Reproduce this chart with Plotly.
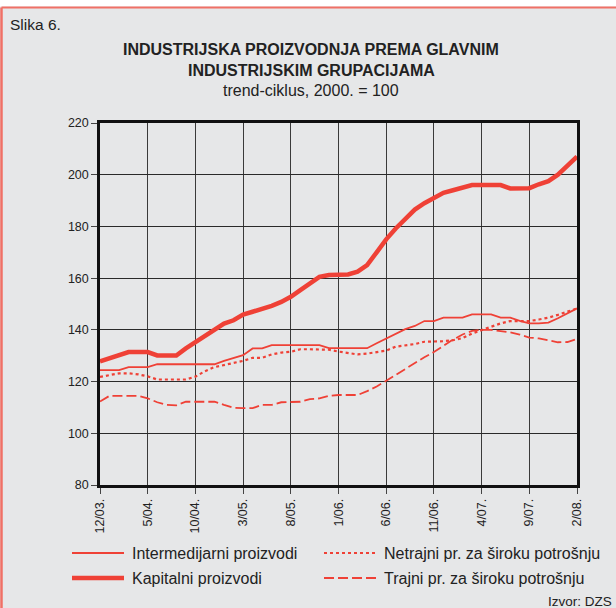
import plotly.graph_objects as go

# ---- data ----
tick_labels = ["12/03.", "5/04.", "10/04.", "3/05.", "8/05.", "1/06.", "6/06.", "11/06.", "4/07.", "9/07.", "2/08."]
months = list(range(51))  # monthly, 12/2003 .. 2/2008

intermedijarni = [124.4, 124.4, 124.4, 125.6, 125.6, 125.6, 126.7, 126.7, 126.7, 126.7,
                  126.7, 126.7, 126.7, 128.0, 129.0, 130.2, 132.8, 132.8, 134.1, 134.1,
                  134.1, 134.1, 134.1, 134.1, 132.9, 132.9, 132.9, 132.9, 132.9, 134.8,
                  136.7, 138.7, 140.3, 141.5, 143.4, 143.4, 144.7, 144.7, 144.7, 146.0,
                  146.0, 146.0, 144.7, 144.7, 143.5, 142.5, 142.5, 142.8, 144.5, 146.5,
                  148.3]
kapitalni = [127.8, 129.0, 130.2, 131.4, 131.4, 131.4, 130.1, 130.1, 130.1, 132.8,
             135.2, 137.5, 140.2, 142.4, 143.7, 145.9, 147.0, 148.0, 149.3, 150.8,
             152.8, 155.4, 158.0, 160.5, 161.2, 161.2, 161.4, 162.5, 165.0, 170.0,
             175.0, 179.2, 183.0, 186.5, 189.0, 191.0, 193.0, 194.0, 195.2, 196.0,
             196.0, 196.0, 196.0, 194.7, 194.7, 194.8, 196.3, 197.5, 200.0, 203.5,
             207.0]
netrajni = [121.8, 122.5, 123.2, 123.2, 122.8, 122.0, 120.8, 120.8, 120.8, 120.8,
            121.9, 124.0, 125.6, 126.4, 127.1, 128.0, 129.2, 129.2, 130.5, 131.2,
            131.5, 132.5, 132.5, 132.5, 132.3, 131.6, 131.0, 130.5, 130.8, 131.4,
            132.0, 133.5, 134.0, 134.5, 135.4, 135.4, 135.6, 136.0, 136.8, 138.6,
            139.8, 141.0, 142.5, 143.4, 143.4, 143.4, 144.0, 144.7, 145.8, 147.0,
            148.3]
trajni = [112.3, 114.5, 114.5, 114.5, 114.5, 113.5, 112.0, 111.0, 110.8, 112.2,
          112.2, 112.2, 112.2, 111.0, 109.9, 109.7, 109.7, 111.0, 111.0, 112.0,
          112.2, 112.2, 113.2, 113.5, 114.5, 114.8, 114.8, 114.8, 116.3, 118.1,
          120.3, 122.6, 125.0, 127.3, 129.4, 131.4, 133.8, 136.2, 138.2, 139.6,
          140.0, 140.0, 139.5, 139.0, 138.2, 137.0, 136.7, 136.0, 135.2, 135.3,
          136.5]

series_names = ["Intermedijarni proizvodi", "Kapitalni proizvodi",
                "Netrajni pr. za široku potrošnju", "Trajni pr. za široku potrošnju"]

RED = "#ef4136"
BG = "#e6e7e8"
FONT = "Liberation Sans, Arial, sans-serif"

styles = [dict(width=1.8, dash="solid"), dict(width=4.5, dash="solid"),
          dict(width=2.2, dash="dot"), dict(width=1.8, dash="10px,4px")]
values = [intermedijarni, kapitalni, netrajni, trajni]

fig = go.Figure()
for name, vals, st in zip(series_names, values, styles):
    fig.add_trace(go.Scatter(x=months, y=vals, mode="lines", name=name,
                             line=dict(color=RED, width=st["width"], dash=st["dash"]),
                             showlegend=False, hoverinfo="x+y"))

# plot area in pixels: left 100, right 577, top 123, bottom 485
L, R, T, B, W, H = 100, 39, 123, 123, 616, 608
PW = W - L - R
PH = H - T - B


def px(x):
    return (x - L) / PW


def py(y):
    return (H - B - y) / PH


def note(text, x, y, anchor, size=14):
    return dict(text=text, x=px(x), y=py(y), xref="paper", yref="paper",
                xanchor=anchor, yanchor="middle", showarrow=False,
                font=dict(size=size, color="#222", family=FONT))


annotations = [
    note("Slika 6.", 8, 25, "left", 15.5),
    note("<b>INDUSTRIJSKA PROIZVODNJA PREMA GLAVNIM</b>", 311, 50, "center", 16),
    note("<b>INDUSTRIJSKIM GRUPACIJAMA</b>", 311, 70, "center", 16),
    note("trend-ciklus, 2000. = 100", 311, 90, "center", 16),
    note("Izvor: DZS", 614, 601, "right", 13.5),
]

shapes = [
    # white strip above frame
    dict(type="rect", xref="paper", yref="paper", x0=px(-5), x1=px(625), y0=py(6.5), y1=py(-5),
         fillcolor="white", line=dict(width=0), layer="below"),
    # red frame
    dict(type="line", xref="paper", yref="paper", x0=px(1.5), x1=px(625), y0=py(7.5), y1=py(7.5),
         line=dict(color="#f07066", width=2)),
    dict(type="line", xref="paper", yref="paper", x0=px(1.5), x1=px(1.5), y0=py(7.5), y1=py(620),
         line=dict(color="#f07066", width=2.5)),
]

# manual legend
leg_pos = [(72, 553), (72, 578), (324, 553), (324, 578)]
for name, st, (lx, ly) in zip(series_names, styles, leg_pos):
    shapes.append(dict(type="line", xref="paper", yref="paper", x0=px(lx), x1=px(lx + 52),
                       y0=py(ly), y1=py(ly),
                       line=dict(color=RED, width=st["width"], dash=st["dash"])))
    annotations.append(note(name, lx + 58, ly, "left", 16))

fig.update_layout(
    width=W, height=H,
    margin=dict(l=L, r=R, t=T, b=B),
    paper_bgcolor=BG, plot_bgcolor=BG,
    font=dict(family=FONT, color="#222"),
    annotations=annotations, shapes=shapes,
    showlegend=False,
    xaxis=dict(range=[0, 50], tickvals=list(range(0, 51, 5)), ticktext=tick_labels,
               tickangle=-90, showgrid=True, gridcolor="#3a3a3a", gridwidth=1,
               showline=True, linecolor="#111", linewidth=2.5, mirror=True,
               ticks="outside", ticklen=6, tickcolor="#444", tickfont=dict(size=12.5, color="#222"),
               zeroline=False, fixedrange=True),
    yaxis=dict(range=[80, 220], dtick=20, showgrid=True, gridcolor="#2a2a2a", gridwidth=1,
               showline=True, linecolor="#111", linewidth=2.5, mirror=True,
               ticks="outside", ticklen=6, tickcolor="#444", tickfont=dict(size=12.5, color="#222"),
               zeroline=False, fixedrange=True),
)

fig.write_html("out.html", config={"displayModeBar": False},
               post_script="document.body.style.margin='0px';")
